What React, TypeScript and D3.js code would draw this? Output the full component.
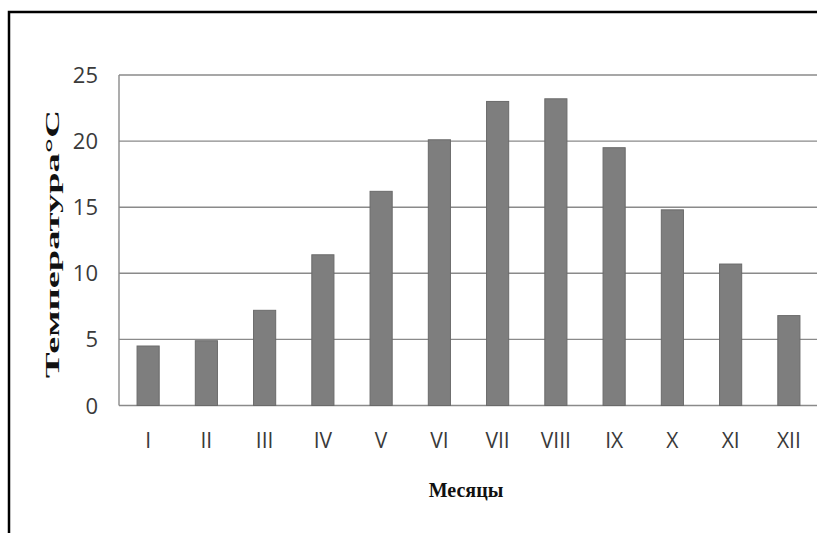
import { useEffect, useRef } from 'react';
import * as d3 from 'd3';

const months = ['I', 'II', 'III', 'IV', 'V', 'VI', 'VII', 'VIII', 'IX', 'X', 'XI', 'XII'];
const temps = [4.5, 4.9, 7.2, 11.4, 16.2, 20.1, 23.0, 23.2, 19.5, 14.8, 10.7, 6.8];
const yTicks = [0, 5, 10, 15, 20, 25];

const W = 817;
const H = 533;

const App = () => {
  const svgRef = useRef<SVGSVGElement | null>(null);

  useEffect(() => {
    if (!svgRef.current) return;
    const svg = d3.select(svgRef.current);
    svg.selectAll('*').remove();

    const left = 119, right = 818, top = 75, bottom = 405.5;

    const x = d3.scaleBand().domain(months).range([left, right]).paddingInner(0.62).paddingOuter(0.31);
    const y = d3.scaleLinear().domain([0, 25]).range([bottom, top]);

    // frame
    svg.append('path')
      .attr('d', `M9,${H} L9,12 L${W},12`)
      .attr('fill', 'none')
      .attr('stroke', '#000')
      .attr('stroke-width', 2.5);

    // gridlines
    svg.selectAll('line.grid')
      .data(yTicks)
      .enter()
      .append('line')
      .attr('class', 'grid')
      .attr('x1', left)
      .attr('x2', W)
      .attr('y1', d => y(d))
      .attr('y2', d => y(d))
      .attr('stroke', '#8a8a8a')
      .attr('stroke-width', 1.4);

    svg.append('line')
      .attr('x1', left).attr('x2', left)
      .attr('y1', top).attr('y2', bottom)
      .attr('stroke', '#8a8a8a')
      .attr('stroke-width', 1.4);

    // bars
    svg.selectAll('rect.bar')
      .data(temps)
      .enter()
      .append('rect')
      .attr('class', 'bar')
      .attr('x', (_, i) => x(months[i]) as number)
      .attr('width', x.bandwidth())
      .attr('y', d => y(d))
      .attr('height', d => bottom - y(d))
      .attr('fill', '#7e7e7e')
      .attr('stroke', '#6a6a6a')
      .attr('stroke-width', 1);

    // y tick labels
    svg.selectAll('text.ytick')
      .data(yTicks)
      .enter()
      .append('text')
      .attr('class', 'ytick')
      .attr('x', 98)
      .attr('y', d => y(d) + 8)
      .attr('text-anchor', 'end')
      .attr('font-family', 'Open Sans, Liberation Sans, sans-serif')
      .attr('font-size', 22)
      .attr('fill', '#3a3a3a')
      .text(d => d);

    // x tick labels
    svg.selectAll('text.xtick')
      .data(months)
      .enter()
      .append('text')
      .attr('class', 'xtick')
      .attr('x', d => (x(d) as number) + x.bandwidth() / 2)
      .attr('y', 448)
      .attr('text-anchor', 'middle')
      .attr('font-family', 'Open Sans, Liberation Sans, sans-serif')
      .attr('font-size', 21)
      .attr('fill', '#3a3a3a')
      .text(d => d);

    // axis titles
    svg.append('text')
      .attr('transform', `translate(59, 244) rotate(-90)`)
      .attr('text-anchor', 'middle')
      .attr('font-family', 'Liberation Serif, Times New Roman, serif')
      .attr('font-weight', 'bold')
      .attr('font-size', 19)
      .attr('fill', '#111')
      .attr('textLength', 268)
      .attr('lengthAdjust', 'spacingAndGlyphs')
      .text('Температура°С');

    svg.append('text')
      .attr('x', 466)
      .attr('y', 497)
      .attr('text-anchor', 'middle')
      .attr('font-family', 'Liberation Serif, Times New Roman, serif')
      .attr('font-weight', 'bold')
      .attr('font-size', 20)
      .attr('fill', '#111')
      .text('Месяцы');
  }, []);

  return (
    <svg
      ref={svgRef}
      width={W}
      height={H}
      style={{ position: 'absolute', left: 0, top: 0, background: '#fff' }}
    ></svg>
  );
};

export default App;
